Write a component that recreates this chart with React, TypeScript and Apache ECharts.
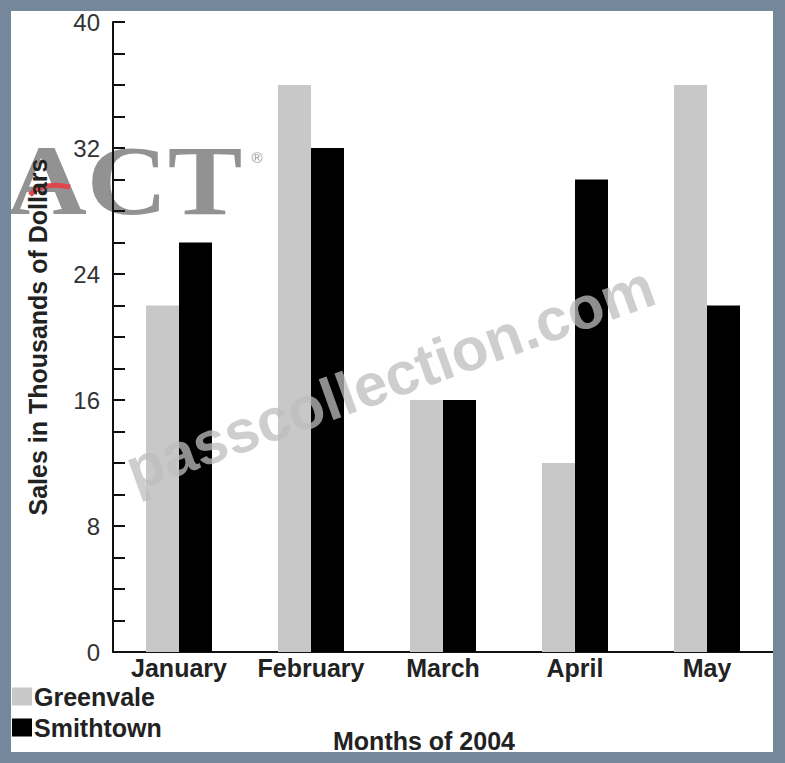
import React, { useEffect, useRef } from "react";
import * as echarts from "echarts";

const months = ["January", "February", "March", "April", "May"];
const greenvale = [22, 36, 16, 12, 36];
const smithtown = [26, 32, 16, 30, 22];
const seriesNames = ["Greenvale", "Smithtown"];
const yMin = 0;
const yMax = 40;
const yTickStep = 2;
const yLabelStep = 8;

const FRAME = "#75879a";
const TEXT = "#222222";
const FONT = "'Liberation Sans', Arial, Helvetica, sans-serif";

export default function App() {
  const ref = useRef<HTMLDivElement>(null);

  useEffect(() => {
    if (!ref.current) return;
    const chart = echarts.init(ref.current, undefined, { renderer: "svg" });
    chart.setOption({
      animation: false,
      backgroundColor: "#ffffff",
      color: ["#c8c8c8", "#000000"],
      grid: { left: 113, right: 12, top: 22, bottom: 111, containLabel: false },
      legend: {
        data: seriesNames,
        orient: "vertical",
        left: 12,
        top: 684,
        padding: 0,
        itemWidth: 20,
        itemHeight: 18,
        itemGap: 6,
        icon: "rect",
        textStyle: { fontSize: 25, fontWeight: "bold", color: TEXT, fontFamily: FONT, padding: [0, 0, 0, -3] },
      },
      xAxis: {
        type: "category",
        data: months,
        axisLine: { show: true, lineStyle: { color: "#111", width: 2 } },
        axisTick: { show: false },
        axisLabel: { fontSize: 25, fontWeight: "bold", color: TEXT, fontFamily: FONT, margin: 3, interval: 0 },
        name: "Months of 2004",
        nameLocation: "middle",
        nameGap: 76,
        nameTextStyle: { fontSize: 25, fontWeight: "bold", color: TEXT, fontFamily: FONT, padding: [0, 38, 0, 0] },
        splitLine: { show: false },
      },
      yAxis: {
        type: "value",
        min: yMin,
        max: yMax,
        interval: yTickStep,
        axisLine: { show: true, lineStyle: { color: "#111", width: 2 } },
        axisTick: { show: true, inside: true, length: 12, lineStyle: { color: "#111", width: 2 } },
        axisLabel: {
          fontSize: 24,
          color: "#333",
          fontFamily: FONT,
          margin: 13,
          formatter: (v: number) => (v % yLabelStep === 0 ? String(v) : ""),
        },
        splitLine: { show: false },
        name: "Sales in Thousands of Dollars",
        nameLocation: "middle",
        nameRotate: 90,
        nameGap: 63,
        nameTextStyle: { fontSize: 25, fontWeight: "bold", color: TEXT, fontFamily: FONT },
      },
      series: [
        { name: seriesNames[0], type: "bar", data: greenvale, barWidth: 33, barGap: "0%", z: 2 },
        { name: seriesNames[1], type: "bar", data: smithtown, barWidth: 33, barGap: "0%", z: 2 },
      ],
      graphic: [
        {
          type: "group",
          z: -10,
          children: [
            {
              type: "text",
              x: 6,
              y: 180,
              scaleX: 1.12,
              style: {
                text: "ACT",
                fontSize: 100,
                fontWeight: "bold",
                fontFamily: "'Liberation Serif', 'Times New Roman', serif",
                fill: "#8c8c8c",
                opacity: 0.95,
                textAlign: "left",
                textVerticalAlign: "middle",
              },
            },
            {
              type: "text",
              x: 257,
              y: 157,
              style: { text: "®", fontSize: 15, fill: "#999", fontFamily: FONT, textAlign: "center", textVerticalAlign: "middle" },
            },
            {
              type: "bezierCurve",
              shape: { x1: 30, y1: 195, cpx1: 42, cpy1: 181, x2: 70, y2: 187 },
              style: { stroke: "#e0474c", lineWidth: 5, fill: null },
            },
          ],
        },
        {
          type: "text",
          z: 10,
          x: 390,
          y: 378,
          rotation: 0.345,
          style: {
            text: "passcollection.com",
            fontSize: 60,
            fontWeight: "bold",
            fontFamily: FONT,
            fill: "rgba(190,190,190,0.75)",
            textAlign: "center",
            textVerticalAlign: "middle",
          },
        },
        { type: "rect", z: 100, shape: { x: 0, y: 0, width: 785, height: 11 }, style: { fill: FRAME } },
        { type: "rect", z: 100, shape: { x: 0, y: 0, width: 11, height: 763 }, style: { fill: FRAME } },
        { type: "rect", z: 100, shape: { x: 773, y: 0, width: 12, height: 763 }, style: { fill: FRAME } },
        { type: "rect", z: 100, shape: { x: 0, y: 752, width: 785, height: 11 }, style: { fill: FRAME } },
      ],
    });
    return () => chart.dispose();
  }, []);

  return (
    <div
      ref={ref}
      style={{ position: "fixed", left: 0, top: 0, width: 785, height: 763 }}
    />
  );
}
